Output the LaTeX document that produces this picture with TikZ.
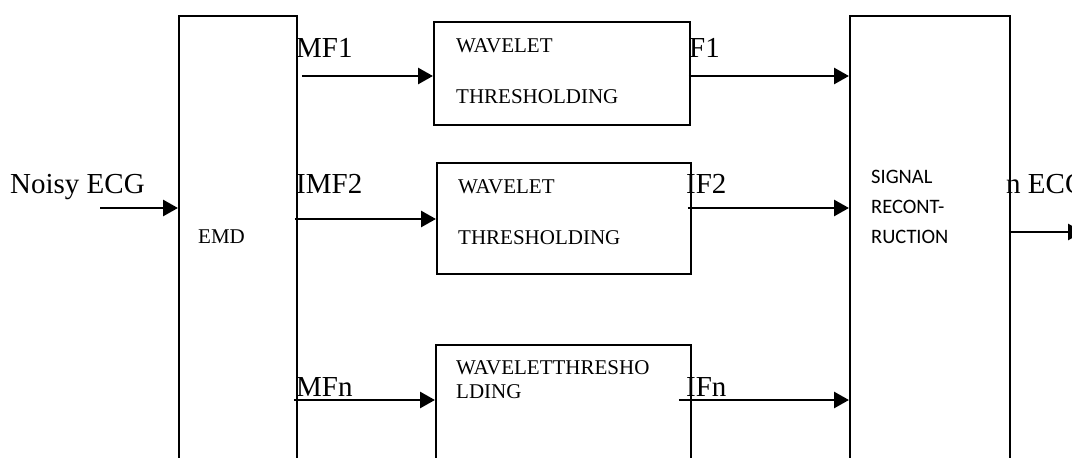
\documentclass[tikz,border=0pt]{standalone}
\usepackage{fontspec}
\setmainfont{Liberation Serif}
\newfontfamily\calib{Carlito}
\usetikzlibrary{arrows.meta}
\begin{document}
\begin{tikzpicture}[x=1pt,y=-1pt,
  blk/.style={draw, line width=1.9pt, fill=white, inner sep=0pt, anchor=north west},
  arr/.style={line width=2.8pt, -{Triangle[length=15pt,width=16pt]}},
  lbl/.style={font=\fontsize{29}{32}\selectfont, anchor=base west, inner sep=0pt},
  btxt/.style={font=\fontsize{21}{25}\selectfont, anchor=base west, inner sep=0pt},
  stxt/.style={font=\calib\fontsize{20.5}{23}\selectfont, anchor=base west, inner sep=0pt}]
\clip (0,0) rectangle (1072,458);
\fill[white] (0,0) rectangle (1072,458);
% boxes
\node[blk, minimum width=118pt, minimum height=460pt] (emd) at (178,15) {};
\node[blk, minimum width=160pt, minimum height=460pt] (sig) at (849,15) {};
\node[blk, minimum width=256pt, minimum height=103pt] (w1) at (433,21) {};
\node[blk, minimum width=254pt, minimum height=111pt] (w2) at (436,162) {};
\node[blk, minimum width=255pt, minimum height=130pt] (w3) at (435,344) {};
% box texts
\node[btxt] (temd) at (198,243) {EMD};
\node[btxt] (tw1a) at (456,52) {WAVELET};
\node[btxt] (tw1b) at (456,103) {THRESHOLDING};
\node[btxt] (tw2a) at (458,193) {WAVELET};
\node[btxt] (tw2b) at (458,244) {THRESHOLDING};
\node[btxt] (tw3a) at (456,374) {WAVELETTHRESHO};
\node[btxt] (tw3b) at (456,398) {LDING};
\node[stxt] (ts1) at (871,183) {SIGNAL};
\node[stxt] (ts2) at (871,213) {RECONT-};
\node[stxt] (ts3) at (871,243) {RUCTION};
% labels
\node[lbl] (lin) at (10,193) {Noisy ECG};
\node[lbl] (l1) at (296,57) {MF1};
\node[lbl] (l2) at (296,193) {IMF2};
\node[lbl] (l3) at (296,396) {MFn};
\node[lbl] (r1) at (689,57) {F1};
\node[lbl] (r2) at (686,193) {IF2};
\node[lbl] (r3) at (686,396) {IFn};
\node[lbl] (lout) at (1006,193) {n ECG};
% connectors
\coordinate (in) at (100,208);
\coordinate (out) at (1083,232);
\draw[arr] (in) -- (emd.west |- in);
\draw[arr] ([xshift=4pt]emd.east |- 0,76) -- (w1.west |- 0,76);
\draw[arr] ([xshift=-3pt]emd.east |- 0,219) -- (w2.west |- 0,219);
\draw[arr] ([xshift=-4pt]emd.east |- 0,400) -- (w3.west |- 0,400);
\draw[arr] ([xshift=-2pt]w1.east |- 0,76) -- (sig.west |- 0,76);
\draw[arr] ([xshift=-4pt]w2.east |- 0,208) -- (sig.west |- 0,208);
\draw[arr] ([xshift=-13pt]w3.east |- 0,400) -- (sig.west |- 0,400);
\draw[arr] ([xshift=-2pt]sig.east |- out) -- (out);
\end{tikzpicture}
\end{document}
